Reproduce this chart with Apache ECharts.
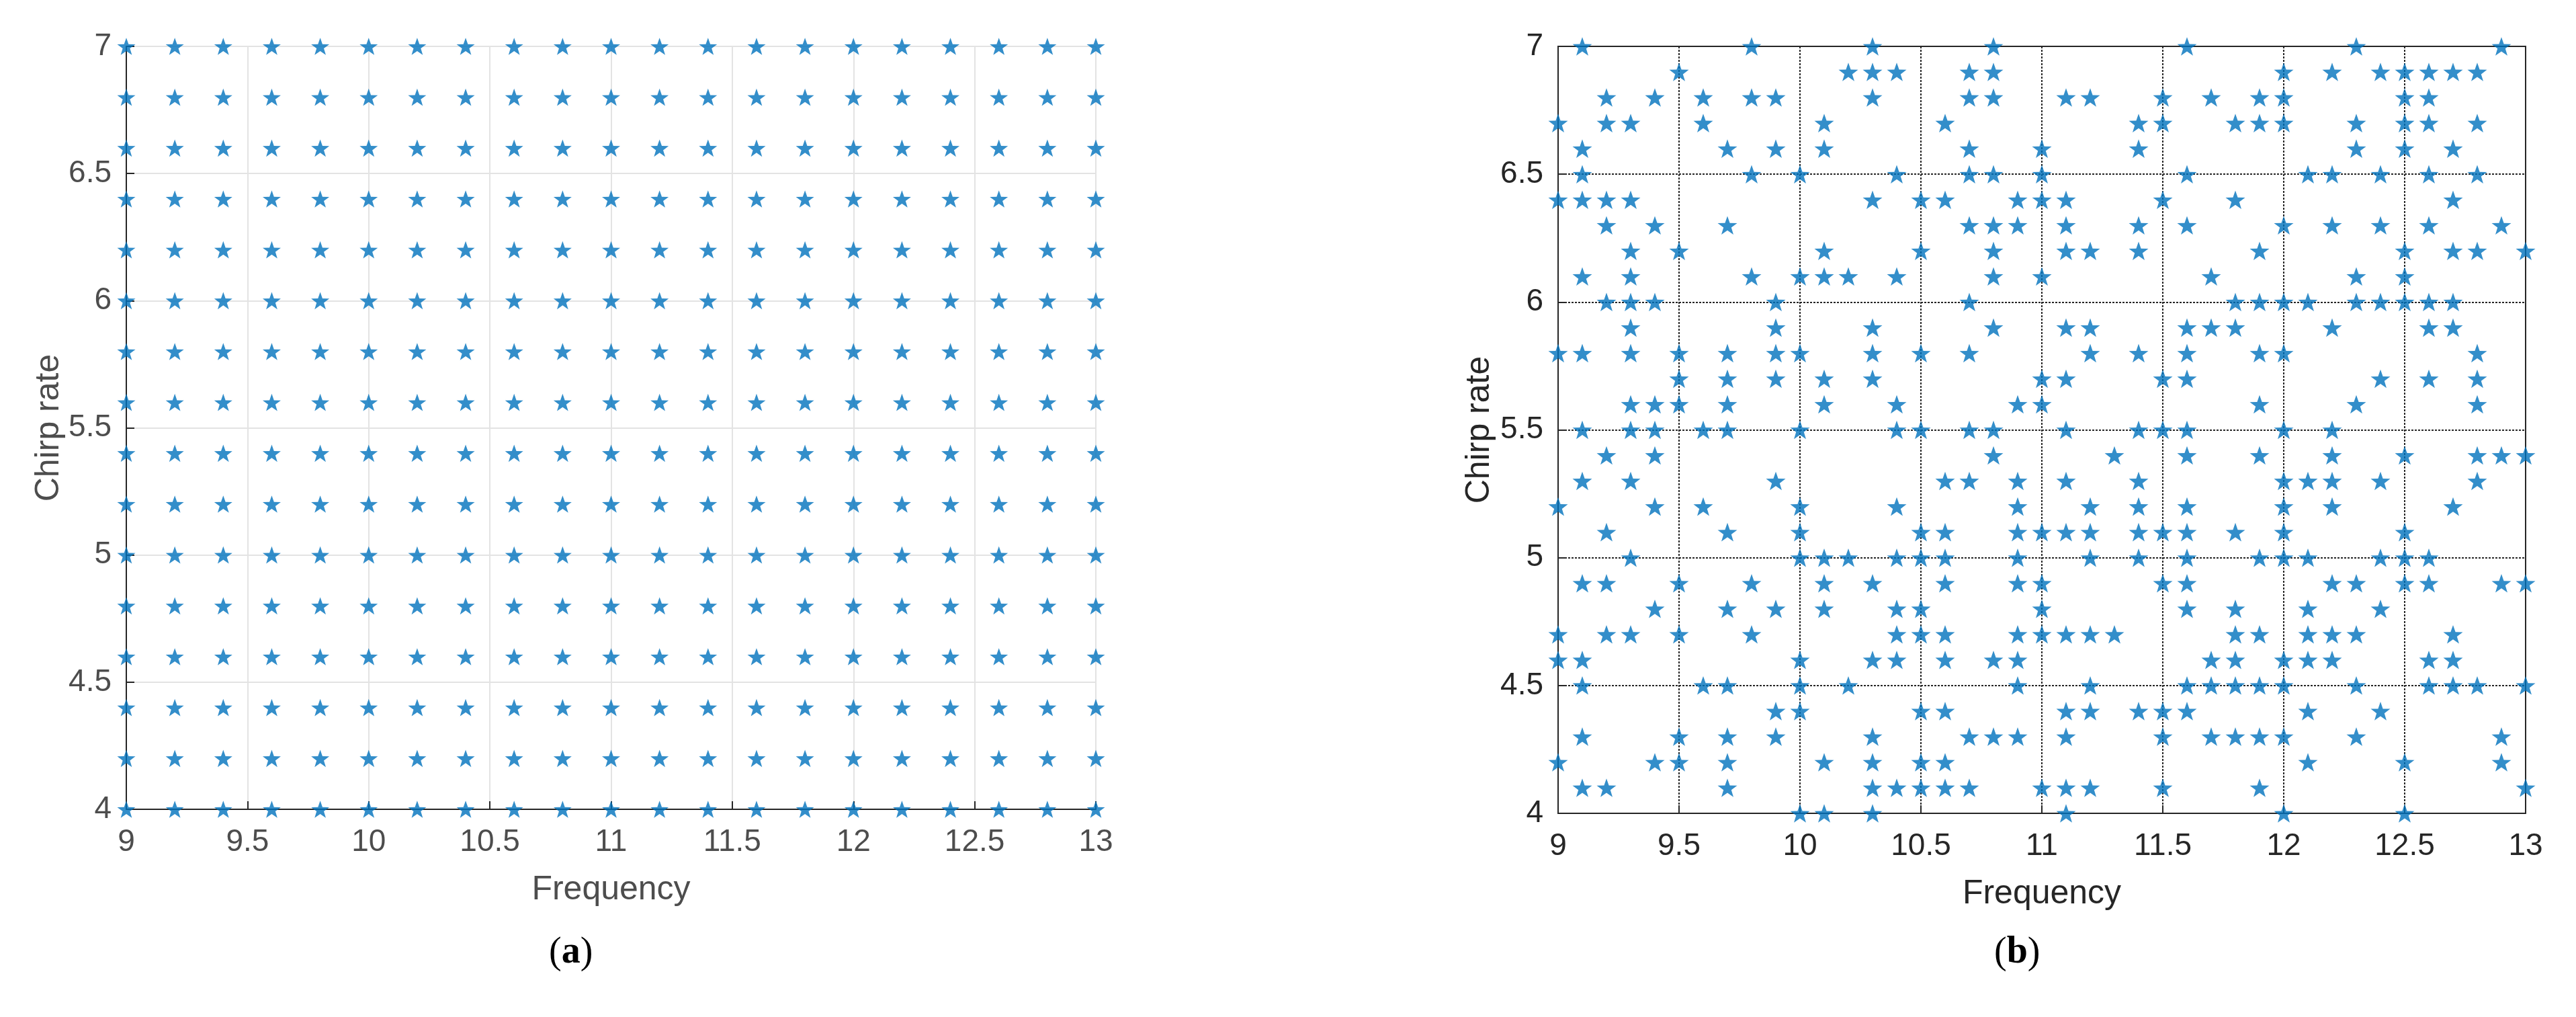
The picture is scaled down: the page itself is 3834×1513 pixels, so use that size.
<!DOCTYPE html>
<html><head><meta charset="utf-8">
<script src="https://cdn.jsdelivr.net/npm/echarts@6/dist/echarts.min.js"></script>
<style>html,body{margin:0;padding:0;background:#fff}#c{width:3834px;height:1513px}</style>
</head><body><div id="c"></div>
<script>
// Panel (a): regular grid
const gridFreqs = [9,9.2,9.4,9.6,9.8,10,10.2,10.4,10.6,10.8,11,11.2,11.4,11.6,11.8,12,12.2,12.4,12.6,12.8,13];
const gridChirps = [4,4.2,4.4,4.6,4.8,5,5.2,5.4,5.6,5.8,6,6.2,6.4,6.6,6.8,7];
// Panel (b): chirp levels and the frequencies sampled at each level
const chirpLevels = [7.0,6.9,6.8,6.7,6.6,6.5,6.4,6.3,6.2,6.1,6.0,5.9,5.8,5.7,5.6,5.5,5.4,5.3,5.2,5.1,5.0,4.9,4.8,4.7,4.6,4.5,4.4,4.3,4.2,4.1,4.0];
const freqsAtLevel = [
 [9.1,9.8,10.3,10.8,11.6,12.3,12.9],
 [9.5,10.2,10.3,10.4,10.7,10.8,12.0,12.2,12.4,12.5,12.6,12.7,12.8],
 [9.2,9.4,9.6,9.8,9.9,10.3,10.7,10.8,11.1,11.2,11.5,11.7,11.9,12.0,12.5,12.6],
 [9.0,9.2,9.3,9.6,10.1,10.6,11.4,11.5,11.8,11.9,12.0,12.3,12.5,12.6,12.8],
 [9.1,9.7,9.9,10.1,10.7,11.0,11.4,12.3,12.5,12.7],
 [9.1,9.8,10.0,10.4,10.7,10.8,11.0,11.6,12.1,12.2,12.4,12.6,12.8],
 [9.0,9.1,9.2,9.3,10.3,10.5,10.6,10.9,11.0,11.1,11.5,11.8,12.7],
 [9.2,9.4,9.7,10.7,10.8,10.9,11.1,11.4,11.6,12.0,12.2,12.4,12.6,12.9],
 [9.3,9.5,10.1,10.5,10.8,11.1,11.2,11.4,11.9,12.5,12.7,12.8,13.0],
 [9.1,9.3,9.8,10.0,10.1,10.2,10.4,10.8,11.0,11.7,12.3,12.5],
 [9.2,9.3,9.4,9.9,10.7,11.8,11.9,12.0,12.1,12.3,12.4,12.5,12.6,12.7],
 [9.3,9.9,10.3,10.8,11.1,11.2,11.6,11.7,11.8,12.2,12.6,12.7],
 [9.0,9.1,9.3,9.5,9.7,9.9,10.0,10.3,10.5,10.7,11.2,11.4,11.6,11.9,12.0,12.8],
 [9.5,9.7,9.9,10.1,10.3,11.0,11.1,11.5,11.6,12.4,12.6,12.8],
 [9.3,9.4,9.5,9.7,10.1,10.4,10.9,11.0,11.9,12.3,12.8],
 [9.1,9.3,9.4,9.6,9.7,10.0,10.4,10.5,10.7,10.8,11.1,11.4,11.5,11.6,12.0,12.2],
 [9.2,9.4,10.8,11.3,11.6,11.9,12.2,12.5,12.8,12.9,13.0],
 [9.1,9.3,9.9,10.6,10.7,10.9,11.1,11.4,12.0,12.1,12.2,12.4,12.8],
 [9.0,9.4,9.6,10.0,10.4,10.9,11.2,11.4,11.6,12.0,12.2,12.7],
 [9.2,9.7,10.0,10.5,10.6,10.9,11.0,11.1,11.2,11.4,11.5,11.6,11.8,12.0,12.5],
 [9.3,10.0,10.1,10.2,10.4,10.5,10.6,10.9,11.2,11.4,11.6,11.9,12.0,12.1,12.4,12.5,12.6],
 [9.1,9.2,9.5,9.8,10.1,10.3,10.6,10.9,11.0,11.5,11.6,12.2,12.3,12.5,12.6,12.9,13.0],
 [9.4,9.7,9.9,10.1,10.4,10.5,11.0,11.6,11.8,12.1,12.4],
 [9.0,9.2,9.3,9.5,9.8,10.4,10.5,10.6,10.9,11.0,11.1,11.2,11.3,11.8,11.9,12.1,12.2,12.3,12.7],
 [9.0,9.1,10.0,10.3,10.4,10.6,10.8,10.9,11.7,11.8,12.0,12.1,12.2,12.6,12.7],
 [9.1,9.6,9.7,10.0,10.2,10.9,11.2,11.6,11.7,11.8,11.9,12.0,12.3,12.6,12.7,12.8,13.0],
 [9.9,10.0,10.5,10.6,11.1,11.2,11.4,11.5,11.6,12.1,12.4],
 [9.1,9.5,9.7,9.9,10.3,10.7,10.8,10.9,11.1,11.5,11.7,11.8,11.9,12.0,12.3,12.9],
 [9.0,9.4,9.5,9.7,10.1,10.3,10.5,10.6,12.1,12.5,12.9],
 [9.1,9.2,9.7,10.3,10.4,10.5,10.6,10.7,11.0,11.1,11.2,11.5,11.9,13.0],
 [10.0,10.1,10.3,11.1,12.0,12.5]
];

const dataA = [];
gridChirps.forEach(y => gridFreqs.forEach(x => dataA.push([x, y])));
const dataB = [];
chirpLevels.forEach((y, i) => freqsAtLevel[i].forEach(x => dataB.push([x, y])));

const star = 'path://M0,-10 L2.35,-3.24 L9.51,-3.09 L3.8,1.24 L5.88,8.09 L0,4 L-5.88,8.09 L-3.8,1.24 L-9.51,-3.09 L-2.35,-3.24 Z';
const FONT = 'Liberation Sans';

function xAx(idx, labelColor, lineColor, splitStyle) {
  return {gridIndex: idx, type: 'value', min: 9, max: 13, interval: 0.5,
    name: 'Frequency', nameLocation: 'middle', nameGap: 95,
    nameTextStyle: {fontFamily: FONT, fontSize: 50, color: labelColor},
    axisLine: {show: true, onZero: false, lineStyle: {color: lineColor, width: 2}},
    axisTick: {show: true, inside: true, length: 12, lineStyle: {color: lineColor, width: 2}},
    axisLabel: {fontFamily: FONT, fontSize: 46, color: labelColor, margin: 26},
    splitLine: {show: true, lineStyle: splitStyle}};
}
function yAx(idx, labelColor, lineColor, splitStyle, gap) {
  return {gridIndex: idx, type: 'value', min: 4, max: 7, interval: 0.5,
    name: 'Chirp rate', nameLocation: 'middle', nameGap: gap, nameRotate: 90,
    nameTextStyle: {fontFamily: FONT, fontSize: 50, color: labelColor},
    axisLine: {show: true, onZero: false, lineStyle: {color: lineColor, width: 2}},
    axisTick: {show: true, inside: true, length: 12, lineStyle: {color: lineColor, width: 2}},
    axisLabel: {fontFamily: FONT, fontSize: 46, color: labelColor, margin: 22},
    splitLine: {show: true, lineStyle: splitStyle}};
}

const chart = echarts.init(document.getElementById('c'), null, {renderer: 'canvas'});
chart.setOption({
  backgroundColor: '#ffffff',
  animation: false,
  grid: [
    {left: 188, right: 2203, top: 69, bottom: 309},
    {left: 2319, right: 75, top: 69, bottom: 303, show: true, borderColor: '#262626', borderWidth: 2, backgroundColor: 'transparent'}
  ],
  xAxis: [
    xAx(0, '#4d4d4d', '#262626', {color: '#e3e3e3', width: 2}),
    xAx(1, '#262626', '#262626', {color: '#262626', width: 2, type: [3, 2]})
  ],
  yAxis: [
    yAx(0, '#4d4d4d', '#262626', {color: '#e3e3e3', width: 2}, 62),
    yAx(1, '#262626', '#262626', {color: '#262626', width: 2, type: [3, 2]}, 92)
  ],
  series: [
    {type: 'scatter', xAxisIndex: 0, yAxisIndex: 0, data: dataA, symbol: star, symbolKeepAspect: true, symbolSize: 27, itemStyle: {color: '#0072BD'}, clip: false},
    {type: 'scatter', xAxisIndex: 1, yAxisIndex: 1, data: dataB, symbol: star, symbolKeepAspect: true, symbolSize: 29, itemStyle: {color: '#0072BD'}, clip: false}
  ],
  graphic: [
    {type: 'text', left: 857 - 40, top: 1390, style: {text: '({b|a})', fontFamily: 'Liberation Serif', fontSize: 56, fill: '#000', rich: {b: {fontFamily: 'Liberation Serif', fontSize: 56, fontWeight: 'bold', fill: '#000'}}}},
    {type: 'text', left: 3008 - 40, top: 1390, style: {text: '({b|b})', fontFamily: 'Liberation Serif', fontSize: 56, fill: '#000', rich: {b: {fontFamily: 'Liberation Serif', fontSize: 56, fontWeight: 'bold', fill: '#000'}}}}
  ]
});
</script></body></html>
